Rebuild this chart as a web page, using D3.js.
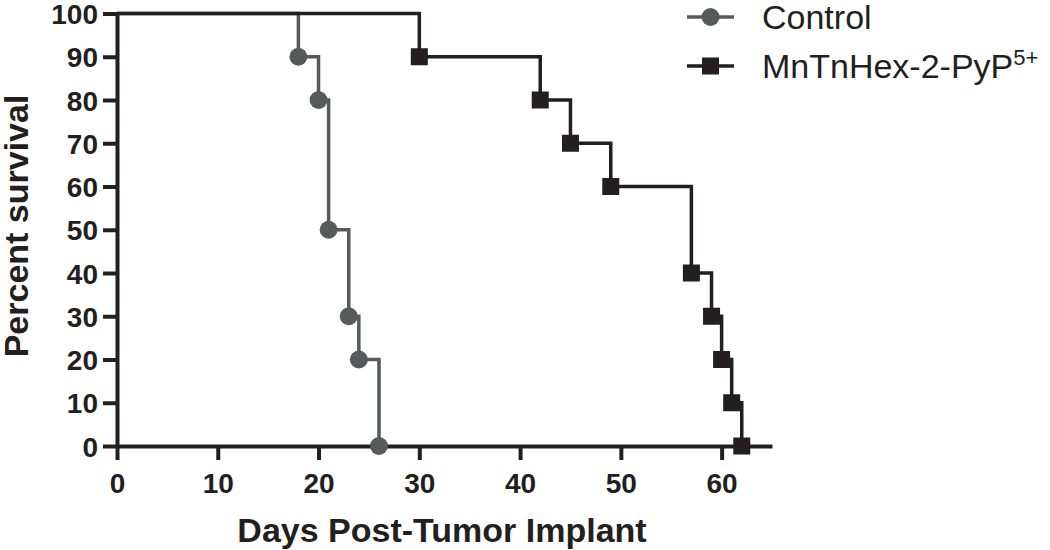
<!DOCTYPE html>
<html>
<head>
<meta charset="utf-8">
<script src="https://cdn.jsdelivr.net/npm/d3@7"></script>
<style>
  body { margin: 0; background: #fff; }
  svg { display: block; font-family: 'Liberation Sans', Arial, sans-serif; }
</style>
</head>
<body>
<div id="chart"></div>
<script>
// Kaplan-Meier survival curves

// days and percent survival for each group
const controlDays = [0, 18, 20, 21, 23, 24, 26];
const controlSurvival = [100, 90, 80, 50, 30, 20, 0];

const treatedDays = [0, 30, 42, 45, 49, 57, 59, 60, 61, 62];
const treatedSurvival = [100, 90, 80, 70, 60, 40, 30, 20, 10, 0];

const xTicks = [0, 10, 20, 30, 40, 50, 60];
const yTicks = [0, 10, 20, 30, 40, 50, 60, 70, 80, 90, 100];

const GREY = '#58595b';
const BLACK = '#231f20';

const width = 1050;
const height = 550;

const svg = d3
  .select('#chart')
  .append('svg')
  .attr('width', width)
  .attr('height', height);

const x = d3.scaleLinear().domain([0, 65]).range([117, 772]);
const y = d3.scaleLinear().domain([0, 100]).range([446, 13.5]);

// x axis
const xAxis = svg
  .append('g')
  .attr('transform', `translate(0, ${y(0)})`)
  .call(d3.axisBottom(x).tickValues(xTicks).tickSize(14).tickPadding(6).tickSizeOuter(0));

// y axis
const yAxis = svg
  .append('g')
  .attr('transform', `translate(${x(0)}, 0)`)
  .call(d3.axisLeft(y).tickValues(yTicks).tickSize(14).tickPadding(5).tickSizeOuter(0));

[xAxis, yAxis].forEach((g) => {
  g.select('.domain').attr('stroke', BLACK).attr('stroke-width', 4);
  g.selectAll('.tick line').attr('stroke', BLACK).attr('stroke-width', 4);
  g.selectAll('.tick text')
    .attr('fill', BLACK)
    .style('font-size', '28px')
    .style('font-weight', 'bold');
});
xAxis.selectAll('.tick text').attr('dy', '0.95em');
yAxis.selectAll('.tick text').attr('dy', '0.36em');

// axis titles
svg
  .append('text')
  .text('Days Post-Tumor Implant')
  .attr('x', 442)
  .attr('y', 542)
  .attr('text-anchor', 'middle')
  .attr('fill', BLACK)
  .style('font-size', '34px')
  .style('font-weight', 'bold');

svg
  .append('text')
  .text('Percent survival')
  .attr('transform', 'translate(28, 226) rotate(-90)')
  .attr('text-anchor', 'middle')
  .attr('fill', BLACK)
  .style('font-size', '34px')
  .style('font-weight', 'bold');

const toPoints = (days, values) => days.map((d, i) => ({ day: d, value: values[i] }));

const controlPoints = toPoints(controlDays, controlSurvival);
const treatedPoints = toPoints(treatedDays, treatedSurvival);

const step = d3
  .line()
  .x(d => x(d.day))
  .y(d => y(d.value))
  .curve(d3.curveStepAfter);

// control curve
svg
  .append('path')
  .datum(controlPoints)
  .attr('d', step)
  .attr('fill', 'none')
  .attr('stroke', GREY)
  .attr('stroke-width', 3.5);

svg
  .selectAll('circle.control')
  .data(controlPoints.slice(1))
  .enter()
  .append('circle')
  .attr('class', 'control')
  .attr('cx', d => x(d.day))
  .attr('cy', d => y(d.value))
  .attr('r', 9)
  .attr('fill', GREY);

// treated curve (drawn on top so the shared 100% line is black)
svg
  .append('path')
  .datum(treatedPoints)
  .attr('d', step)
  .attr('fill', 'none')
  .attr('stroke', BLACK)
  .attr('stroke-width', 3.5);

const sq = 17;
svg
  .selectAll('rect.treated')
  .data(treatedPoints.slice(1))
  .enter()
  .append('rect')
  .attr('class', 'treated')
  .attr('x', d => x(d.day) - sq / 2)
  .attr('y', d => y(d.value) - sq / 2)
  .attr('width', sq)
  .attr('height', sq)
  .attr('fill', BLACK);

// legend
const legend = svg.append('g');

const legendRows = [
  { label: 'Control', color: GREY, shape: 'circle', y: 17 },
  { label: 'MnTnHex-2-PyP', sup: '5+', color: BLACK, shape: 'square', y: 66 },
];

legendRows.forEach((row) => {
  legend
    .append('line')
    .attr('x1', 687)
    .attr('x2', 734)
    .attr('y1', row.y)
    .attr('y2', row.y)
    .attr('stroke', row.color)
    .attr('stroke-width', 3.5);

  if (row.shape === 'circle') {
    legend
      .append('circle')
      .attr('cx', 710.5)
      .attr('cy', row.y)
      .attr('r', 9)
      .attr('fill', row.color);
  } else {
    legend
      .append('rect')
      .attr('x', 710.5 - sq / 2)
      .attr('y', row.y - sq / 2)
      .attr('width', sq)
      .attr('height', sq)
      .attr('fill', row.color);
  }

  const label = legend
    .append('text')
    .attr('x', 762)
    .attr('y', row.y + 12)
    .attr('fill', BLACK)
    .style('font-size', '34px')
    .text(row.label);

  if (row.sup) {
    label
      .append('tspan')
      .attr('dy', -13)
      .style('font-size', '22px')
      .text(row.sup);
  }
});
</script>
</body>
</html>
